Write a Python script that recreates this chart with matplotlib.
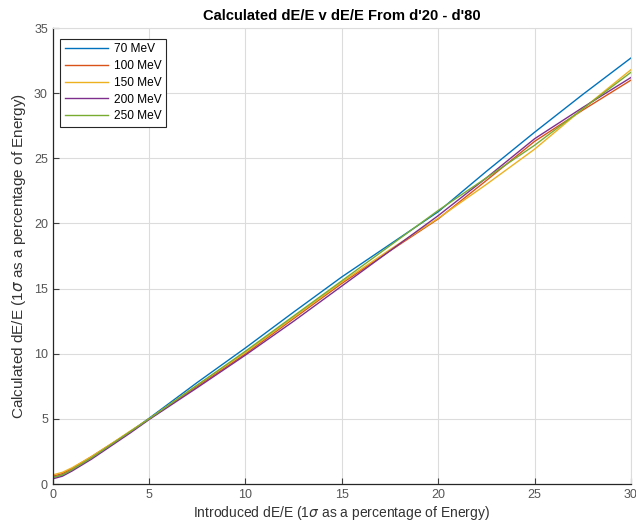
import matplotlib
matplotlib.use("Agg")
import matplotlib.pyplot as plt

plt.rcParams["font.family"] = ["Liberation Sans", "DejaVu Sans"]
plt.rcParams["mathtext.fontset"] = "dejavusans"

# introduced spread (%)
introduced = [0, 0.5, 1, 2, 3, 4, 5, 7.5, 10, 12.5, 15, 17.5, 20, 22.5, 25, 27.5, 30]

calc70 = [0.5, 0.7, 1.1, 2.0, 3.0, 4.0, 5.05, 7.8, 10.45, 13.2, 15.9, 18.4, 20.9, 24.0, 27.0, 29.9, 32.7]
calc100 = [0.6, 0.8, 1.2, 2.1, 3.05, 4.0, 5.0, 7.5, 10.0, 12.7, 15.4, 17.9, 20.35, 23.3, 26.3, 28.7, 31.0]
calc150 = [0.7, 0.9, 1.25, 2.1, 3.05, 4.05, 5.0, 7.6, 10.1, 12.8, 15.5, 18.0, 20.4, 23.0, 25.7, 28.8, 31.8]
calc200 = [0.4, 0.6, 1.0, 1.9, 2.9, 3.9, 4.95, 7.4, 9.9, 12.5, 15.2, 17.9, 20.6, 23.5, 26.5, 28.9, 31.2]
calc250 = [0.5, 0.7, 1.1, 2.0, 3.0, 4.0, 5.0, 7.6, 10.2, 12.9, 15.6, 18.3, 21.0, 23.5, 26.0, 28.8, 31.6]

series = [
    ("70 MeV", calc70, "#0072BD"),
    ("100 MeV", calc100, "#D95319"),
    ("150 MeV", calc150, "#EDB120"),
    ("200 MeV", calc200, "#7E2F8E"),
    ("250 MeV", calc250, "#77AC30"),
]

fig = plt.figure(figsize=(6.36, 5.29), dpi=100)
ax = fig.add_axes([0.083, 0.085, 0.909, 0.862])

for label, vals, col in series:
    ax.plot(introduced, vals, color=col, linewidth=1.0, label=label)

ax.set_xlim(0, 30)
ax.set_ylim(0, 35)
ax.set_xticks(range(0, 31, 5))
ax.set_yticks(range(0, 36, 5))
ax.grid(True, color="#dcdcdc", linewidth=0.8)
ax.set_axisbelow(True)
ax.tick_params(direction="in", length=4, labelsize=9, colors="#404040", top=False, right=False)
ax.tick_params(labelcolor="#555555")
for side in ["left", "bottom"]:
    ax.spines[side].set_color("#262626")
    ax.spines[side].set_linewidth(0.9)
for side in ["top", "right"]:
    ax.spines[side].set_color("#dcdcdc")
    ax.spines[side].set_linewidth(0.8)

ax.set_title("Calculated dE/E v dE/E From d'20 - d'80", fontsize=10.6, fontweight="bold", pad=6)
ax.set_xlabel(r"Introduced dE/E (1$\sigma$ as a percentage of Energy)", fontsize=10, color="#333333", labelpad=2)
ax.set_ylabel(r"Calculated dE/E (1$\sigma$ as a percentage of Energy)", fontsize=11, color="#333333", labelpad=4)

leg = ax.legend(loc="upper left", fontsize=8.6, fancybox=False, framealpha=1,
                edgecolor="#262626", bbox_to_anchor=(0.002, 0.99),
                handlelength=3.6, handletextpad=0.5, labelspacing=0.4, borderpad=0.4)
leg.get_frame().set_linewidth(0.8)

fig.savefig("out.png", dpi=100)
